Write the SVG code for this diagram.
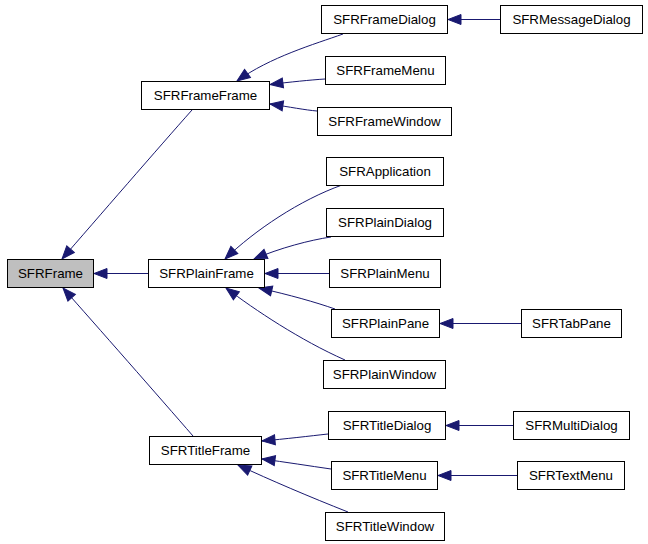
<svg xmlns="http://www.w3.org/2000/svg" width="648" height="544" viewBox="0 0 648 544">
<style>
.n rect{fill:#fff;stroke:#000;stroke-width:1}
.n.root rect{fill:#bfbfbf}
.n text{font-family:"Liberation Sans",Arial,Helvetica,sans-serif;font-size:13.3px;fill:#000;text-anchor:middle}
.e path{fill:none;stroke:#191970;stroke-width:1;marker-end:url(#ah)}
</style>
<defs>
<marker id="ah" markerUnits="userSpaceOnUse" markerWidth="13" markerHeight="10" refX="13" refY="5" orient="auto" overflow="visible">
<path d="M0,0 L13,5 L0,10 z" fill="#191970" stroke="#191970" stroke-width="1"/>
</marker>
</defs>
<rect width="648" height="544" fill="#fff"/>
<g id="edges" class="e">
<path d="M192,110 C160,146 95,221 62,259"/>
<path d="M193,436 C160,398 95,324 63,288"/>
<path d="M148,273.5 L94,273.5"/>
<path d="M343,34 C315,44 270,57 237,81"/>
<path d="M325,79 C310,80 290,82 270,84.5"/>
<path d="M317,111 C305,110 290,107 270,104"/>
<path d="M500,19.5 L448,19.5"/>
<path d="M342,185 C300,200 255,230 225,259"/>
<path d="M331,237 C310,240 280,248 254,259"/>
<path d="M329,273.5 L265,273.5"/>
<path d="M335,309 C315,302 290,295 259,288"/>
<path d="M345,360 C300,340 255,310 226,288"/>
<path d="M521,323.5 L440,323.5"/>
<path d="M328,434 C310,436 285,439 262,441"/>
<path d="M331,469 C310,466 285,462 262,459"/>
<path d="M348,512 C310,497 270,480 238,465"/>
<path d="M513,425.5 L446,425.5"/>
<path d="M517,475.5 L438,475.5"/>
</g>
<g id="SFRFrame" class="n root"><rect x="7.5" y="259.5" width="86" height="28"/><text x="50.5" y="278">SFRFrame</text></g>
<g id="SFRFrameFrame" class="n"><rect x="141.5" y="81.5" width="128" height="28"/><text x="205.5" y="100">SFRFrameFrame</text></g>
<g id="SFRPlainFrame" class="n"><rect x="148.5" y="259.5" width="116" height="28"/><text x="206.5" y="278">SFRPlainFrame</text></g>
<g id="SFRTitleFrame" class="n"><rect x="149.5" y="436.5" width="112" height="28"/><text x="205.5" y="455">SFRTitleFrame</text></g>
<g id="SFRFrameDialog" class="n"><rect x="321.5" y="5.5" width="126" height="28"/><text x="384.5" y="24">SFRFrameDialog</text></g>
<g id="SFRMessageDialog" class="n"><rect x="500.5" y="5.5" width="142" height="28"/><text x="571.5" y="24">SFRMessageDialog</text></g>
<g id="SFRFrameMenu" class="n"><rect x="325.5" y="56.5" width="120" height="28"/><text x="385.5" y="75">SFRFrameMenu</text></g>
<g id="SFRFrameWindow" class="n"><rect x="317.5" y="107.5" width="134" height="28"/><text x="384.5" y="126">SFRFrameWindow</text></g>
<g id="SFRApplication" class="n"><rect x="326.5" y="157.5" width="117" height="28"/><text x="385" y="176">SFRApplication</text></g>
<g id="SFRPlainDialog" class="n"><rect x="326.5" y="208.5" width="117" height="28"/><text x="385" y="227">SFRPlainDialog</text></g>
<g id="SFRPlainMenu" class="n"><rect x="329.5" y="259.5" width="111" height="28"/><text x="385" y="278">SFRPlainMenu</text></g>
<g id="SFRPlainPane" class="n"><rect x="331.5" y="309.5" width="108" height="28"/><text x="385.5" y="328">SFRPlainPane</text></g>
<g id="SFRTabPane" class="n"><rect x="521.5" y="309.5" width="100" height="28"/><text x="571.5" y="328">SFRTabPane</text></g>
<g id="SFRPlainWindow" class="n"><rect x="323.5" y="360.5" width="122" height="28"/><text x="384.5" y="379">SFRPlainWindow</text></g>
<g id="SFRTitleDialog" class="n"><rect x="328.5" y="411.5" width="117" height="28"/><text x="387" y="430">SFRTitleDialog</text></g>
<g id="SFRMultiDialog" class="n"><rect x="513.5" y="411.5" width="116" height="28"/><text x="571.5" y="430">SFRMultiDialog</text></g>
<g id="SFRTitleMenu" class="n"><rect x="331.5" y="461.5" width="106" height="28"/><text x="384.5" y="480">SFRTitleMenu</text></g>
<g id="SFRTextMenu" class="n"><rect x="517.5" y="461.5" width="107" height="28"/><text x="571" y="480">SFRTextMenu</text></g>
<g id="SFRTitleWindow" class="n"><rect x="325.5" y="512.5" width="119" height="28"/><text x="385" y="531">SFRTitleWindow</text></g>
</svg>
